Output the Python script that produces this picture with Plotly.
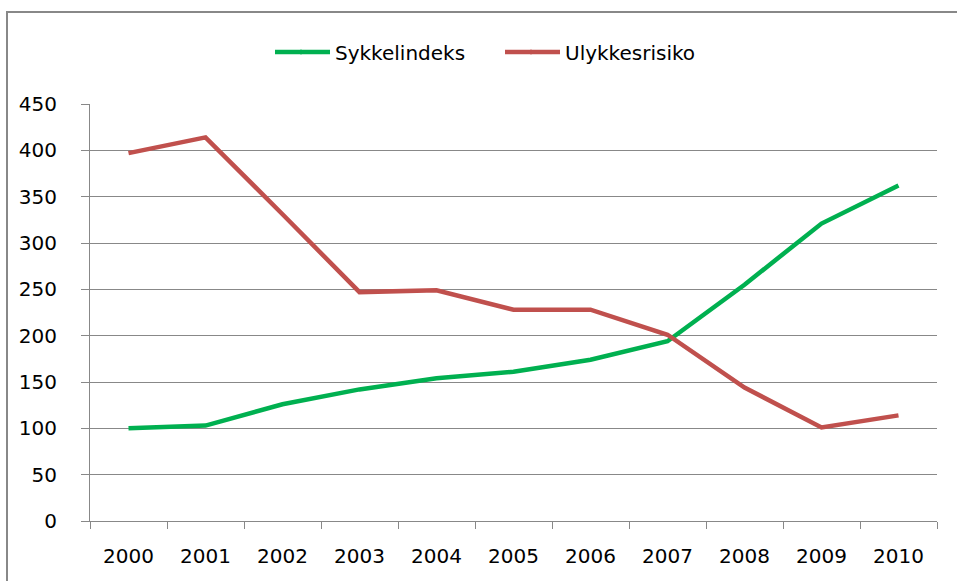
import plotly.graph_objects as go

years = ["2000", "2001", "2002", "2003", "2004", "2005", "2006", "2007", "2008", "2009", "2010"]
sykkelindeks = [100, 103, 126, 142, 154, 161, 174, 194, 255, 321, 362]
ulykkesrisiko = [397, 414, 331, 247, 249, 228, 228, 201, 144, 101, 114]
series_names = ["Sykkelindeks", "Ulykkesrisiko"]
series_colors = ["#00B050", "#C0504D"]
y_ticks = [0, 50, 100, 150, 200, 250, 300, 350, 400, 450]

FONT = "DejaVu Sans"
GRID = "#888888"

W, H = 957, 581
L, R, T, B = 90, 20, 104, 60
PW, PH = W - L - R, H - T - B


def px_x(px):
    return (px - L) / PW


def px_y(py):
    return (H - B - py) / PH


fig = go.Figure()
for name, vals, col in zip(series_names, [sykkelindeks, ulykkesrisiko], series_colors):
    fig.add_trace(go.Scatter(x=years, y=vals, name=name, mode="lines",
                             line=dict(color=col, width=4.5)))

# extend the legend swatches a bit to the left (reference swatches are longer)
legend_ext = []
for col, x0 in zip(series_colors, [275, 505]):
    legend_ext.append(dict(type="line", xref="paper", yref="paper",
                           x0=px_x(x0), x1=px_x(x0 + 27), y0=px_y(52), y1=px_y(52),
                           line=dict(color=col, width=4.5), layer="above"))

fig.update_layout(
    width=W, height=H,
    margin=dict(l=L, r=R, t=T, b=B),
    paper_bgcolor="white", plot_bgcolor="white",
    font=dict(family=FONT, size=20, color="black"),
    showlegend=True,
    legend=dict(orientation="h", xref="container", yref="container",
                x=295 / W, y=1 - 52 / H, xanchor="left", yanchor="middle",
                entrywidth=185, entrywidthmode="pixels",
                font=dict(family=FONT, size=20, color="black"),
                bgcolor="rgba(0,0,0,0)", borderwidth=0),
    xaxis=dict(type="category", range=[-0.5, 10.5], showgrid=False,
               showline=True, linecolor=GRID, linewidth=1,
               ticks="outside", tickson="boundaries", ticklen=7, tickcolor=GRID,
               tickfont=dict(family=FONT, size=20, color="black"),
               ticklabelstandoff=17, zeroline=False),
    yaxis=dict(range=[0, 450], tickvals=y_ticks, showgrid=True, gridcolor=GRID, gridwidth=1,
               showline=True, linecolor=GRID, linewidth=1,
               ticks="outside", ticklen=8, tickcolor=GRID,
               tickfont=dict(family=FONT, size=20, color="black"),
               ticklabelstandoff=20, zeroline=False),
    shapes=[dict(type="rect", xref="paper", yref="paper",
                 x0=px_x(7), x1=1.2, y0=-0.5, y1=px_y(12),
                 line=dict(color="#888888", width=2), fillcolor="rgba(0,0,0,0)", layer="below")]
           + legend_ext,
)

fig.write_html("out.html", config={"displayModeBar": False},
               post_script="document.body.style.margin='0';")
